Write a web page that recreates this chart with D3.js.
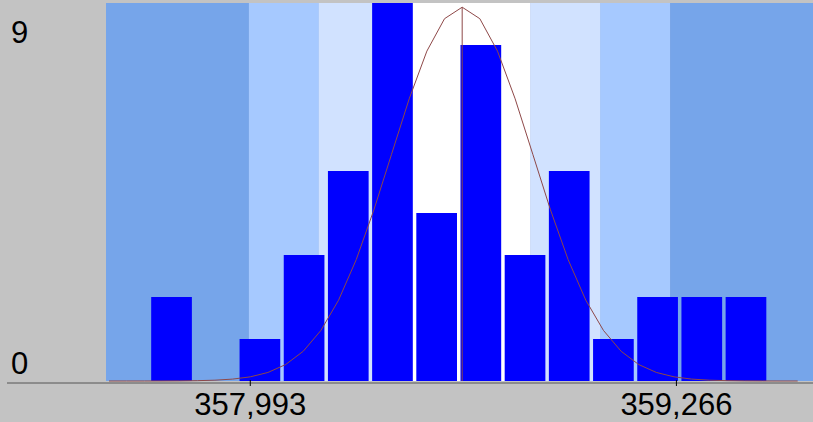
<!DOCTYPE html>
<html>
<head>
<meta charset="utf-8">
<script src="https://cdn.jsdelivr.net/npm/d3@7"></script>
<style>
  body { margin: 0; background: #c3c3c3; }
  svg { display: block; font-family: "Liberation Sans", Arial, sans-serif; }
</style>
</head>
<body>
<div id="chart"></div>
<script>
// histogram bins (value units) and counts
const binStart = 357562;
const binWidth = 132;
const counts = [0, 2, 0, 1, 3, 5, 9, 4, 8, 3, 5, 1, 2, 2, 2, 0];

// fitted normal curve
const meanValue = 358626;
const sdValue = 211;
const curvePeak = 8.9;

// sigma bands: edges from outside in, and their fills
const bandEdges = [357989, 358198, 358409, 358829, 359038, 359247];
const bandFills = ["#76a5ea", "#a6c9ff", "#d1e2ff", "#ffffff", "#d1e2ff", "#a6c9ff", "#76a5ea"];

const xTicks = [357993, 359266];
const yTicks = [0, 9];

const W = 813, H = 422;
const M = { top: 3, right: 0, bottom: 41, left: 106 };
const bottomY = H - M.bottom;

const svg = d3.select("#chart").append("svg")
  .attr("width", W)
  .attr("height", H);

svg.append("rect")
  .attr("width", W).attr("height", H)
  .attr("fill", "#c3c3c3");

const x = d3.scaleLinear()
  .domain([binStart, binStart + counts.length * binWidth])
  .range([M.left, W - M.right]);

const y = d3.scaleLinear()
  .domain([0, 9])
  .range([bottomY, M.top]);

const [x0, x1] = x.domain();

// bands
const edges = [x0, ...bandEdges, x1];
svg.append("g").selectAll("rect")
  .data(bandFills)
  .join("rect")
    .attr("x", (d, i) => x(edges[i]))
    .attr("y", M.top)
    .attr("width", (d, i) => x(edges[i + 1]) - x(edges[i]))
    .attr("height", bottomY - M.top)
    .attr("fill", d => d);

// bars
const binPx = x(binStart + binWidth) - x(binStart);
svg.append("g").selectAll("rect")
  .data(counts.map((c, i) => ({ start: binStart + i * binWidth, count: c })).filter(d => d.count > 0))
  .join("rect")
    .attr("x", d => x(d.start) + 1)
    .attr("y", d => y(d.count))
    .attr("width", binPx - 3.5)
    .attr("height", d => bottomY - y(d.count))
    .attr("fill", "#0000ff");

// normal curve, sampled every quarter sigma
const step = sdValue / 4;
const pts = d3.range(-20, 21).map(k => {
  const v = meanValue + k * step;
  return [v, curvePeak * Math.exp(-0.5 * (k / 4) * (k / 4))];
}).filter(p => p[0] >= x0 && p[0] <= x1);

svg.append("path")
  .datum(pts)
  .attr("fill", "none")
  .attr("stroke", "#8e4848")
  .attr("stroke-width", 1)
  .attr("d", d3.line().x(d => x(d[0])).y(d => y(d[1])));

svg.append("line")
  .attr("x1", x(meanValue)).attr("x2", x(meanValue))
  .attr("y1", y(curvePeak)).attr("y2", bottomY)
  .attr("stroke", "#8e4848")
  .attr("stroke-width", 1);

// baseline axis
svg.append("line")
  .attr("x1", 7).attr("x2", W)
  .attr("y1", bottomY + 2).attr("y2", bottomY + 2)
  .attr("stroke", "#555")
  .attr("stroke-width", 1);

const xAxis = svg.append("g");
xAxis.selectAll("line")
  .data(xTicks)
  .join("line")
    .attr("x1", d => x(d)).attr("x2", d => x(d))
    .attr("y1", bottomY - 1).attr("y2", bottomY + 5)
    .attr("stroke", "#000");
xAxis.selectAll("text")
  .data(xTicks)
  .join("text")
    .attr("x", d => x(d))
    .attr("y", 415)
    .attr("text-anchor", "middle")
    .attr("font-size", 31)
    .attr("fill", "#000")
    .text(d3.format(","));

svg.append("g").selectAll("text")
  .data(yTicks)
  .join("text")
    .attr("x", 11)
    .attr("y", d => d === 0 ? 374 : 43)
    .attr("font-size", 31)
    .attr("fill", "#000")
    .text(d => d);
</script>
</body>
</html>
